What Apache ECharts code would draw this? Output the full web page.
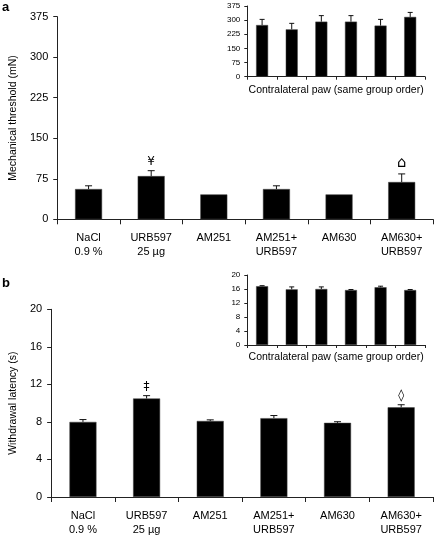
<!DOCTYPE html>
<html>
<head>
<meta charset="utf-8">
<script src="https://cdn.jsdelivr.net/npm/echarts@6/dist/echarts.min.js"></script>
<style>
html,body{margin:0;padding:0;background:#fff;}
#c{width:436px;height:537px;}
</style>
</head>
<body>
<div id="c"></div>
<script>
const categories = ['NaCl\n0.9 %', 'URB597\n25 µg', 'AM251', 'AM251+\nURB597', 'AM630', 'AM630+\nURB597'];
const insetCategories = ['1', '2', '3', '4', '5', '6'];

// Panel a: mechanical threshold (mN)
const mechMain = [56, 80, 46, 56, 46, 69];
const mechMainErr = [6, 10, 0, 6, 0, 15];
const mechMarks = ['', '¥', '', '', '', '⌂'];
const mechInset = [274, 251, 292, 292, 271, 317];
const mechInsetErr = [30, 32, 32, 32, 33, 24];

// Panel b: withdrawal latency (s)
const latMain = [8.0, 10.5, 8.1, 8.4, 7.9, 9.55];
const latMainErr = [0.25, 0.3, 0.12, 0.28, 0.12, 0.28];
const latMarks = ['', '‡', '', '', '', '◊'];
const latInset = [16.8, 15.9, 16.0, 15.7, 16.5, 15.7];
const latInsetErr = [0.15, 0.7, 0.6, 0.15, 0.3, 0.15];

const mechTicks = [0, 75, 150, 225, 300, 375];
const latTicks = [0, 4, 8, 12, 16, 20];

const FONT = 'Liberation Sans, Arial, Helvetica, sans-serif';
const AX = '#222';

function errSeries(xi, yi, vals, errs, marks, capW, markSizes) {
  return {
    type: 'custom',
    xAxisIndex: xi, yAxisIndex: yi,
    silent: true,
    z: 5,
    data: vals.map((v, i) => [i, v, errs[i]]),
    renderItem: function (params, api) {
      const i = api.value(0), v = api.value(1), e = api.value(2);
      const base = api.coord([i, v]);
      const top = api.coord([i, v + e]);
      const ch = [];
      if (e > 0) {
        ch.push({ type: 'line', shape: { x1: base[0], y1: base[1], x2: top[0], y2: top[1] }, style: { stroke: '#111', lineWidth: 1 } });
        ch.push({ type: 'line', shape: { x1: top[0] - capW / 2, y1: top[1], x2: top[0] + capW / 2, y2: top[1] }, style: { stroke: '#111', lineWidth: 1 } });
      }
      const m = marks ? marks[params.dataIndex] : '';
      if (m) {
        const fs = markSizes[params.dataIndex];
        ch.push({ type: 'text', x: top[0], y: top[1] - 3, style: { text: m, fill: '#000', font: fs + 'px DejaVu Sans', align: 'center', verticalAlign: 'bottom' } });
      }
      return { type: 'group', children: ch };
    }
  };
}

function xAxisCfg(gi, data, main, name, nameGap) {
  return {
    type: 'category', gridIndex: gi, data: data,
    axisLine: { lineStyle: { color: AX, width: 1 } },
    axisTick: { show: true, length: main ? 5 : 3, lineStyle: { color: AX } },
    axisLabel: main ? { show: true, color: '#000', fontFamily: FONT, fontSize: 11, lineHeight: 14, margin: 12, interval: 0 } : { show: false },
    name: name || '', nameLocation: 'middle', nameGap: nameGap || 0,
    nameTextStyle: { color: '#000', fontFamily: FONT, fontSize: 10.5 }
  };
}

function yAxisCfg(gi, max, interval, main, name) {
  return {
    type: 'value', gridIndex: gi, min: 0, max: max, interval: interval,
    axisLine: { show: true, lineStyle: { color: AX, width: 1 } },
    axisTick: { show: true, length: main ? 4 : 3, lineStyle: { color: AX } },
    splitLine: { show: false },
    axisLabel: { color: '#000', fontFamily: FONT, fontSize: main ? 11 : 8, margin: main ? 9 : 7 },
    name: name || '', nameLocation: 'middle', nameRotate: 90, nameGap: 27,
    nameTextStyle: { color: '#000', fontFamily: FONT, fontSize: 10.5 }
  };
}

function barSeries(xi, yi, vals, w) {
  return { type: 'bar', xAxisIndex: xi, yAxisIndex: yi, data: vals, barWidth: w, itemStyle: { color: '#000', borderColor: '#444', borderWidth: 0.5 }, silent: true };
}

const chart = echarts.init(document.getElementById('c'), null, { renderer: 'canvas' });
chart.setOption({
  animation: false,
  backgroundColor: '#fff',
  grid: [
    { left: 46, right: 3, top: 16.7, height: 202.6 },
    { left: 247.3, right: 11, top: 6, height: 70.7 },
    { left: 46, right: 3, top: 309.3, height: 191.4 },
    { left: 247.3, right: 11, top: 275, height: 70 }
  ],
  xAxis: [
    xAxisCfg(0, categories, true),
    xAxisCfg(1, insetCategories, false, 'Contralateral paw (same group order)', 8),
    xAxisCfg(2, categories, true),
    xAxisCfg(3, insetCategories, false, 'Contralateral paw (same group order)', 7)
  ],
  yAxis: [
    yAxisCfg(0, 375, 75, true, 'Mechanical threshold (mN)'),
    yAxisCfg(1, 375, 75, false),
    yAxisCfg(2, 20, 4, true, 'Withdrawal latency (s)'),
    yAxisCfg(3, 20, 4, false)
  ],
  graphic: [
    { type: 'text', left: 2, top: 1, style: { text: 'a', font: 'bold 13px ' + FONT, fill: '#000' } },
    { type: 'text', left: 2, top: 277, style: { text: 'b', font: 'bold 13px ' + FONT, fill: '#000' } }
  ],
  series: [
    barSeries(0, 0, mechMain, 27),
    errSeries(0, 0, mechMain, mechMainErr, mechMarks, 7, [12, 12, 12, 12, 12, 15]),
    barSeries(1, 1, mechInset, 12),
    errSeries(1, 1, mechInset, mechInsetErr, null, 5, null),
    barSeries(2, 2, latMain, 27),
    errSeries(2, 2, latMain, latMainErr, latMarks, 7, [12, 12, 12, 12, 12, 12]),
    barSeries(3, 3, latInset, 12),
    errSeries(3, 3, latInset, latInsetErr, null, 5, null)
  ]
});
</script>
</body>
</html>
